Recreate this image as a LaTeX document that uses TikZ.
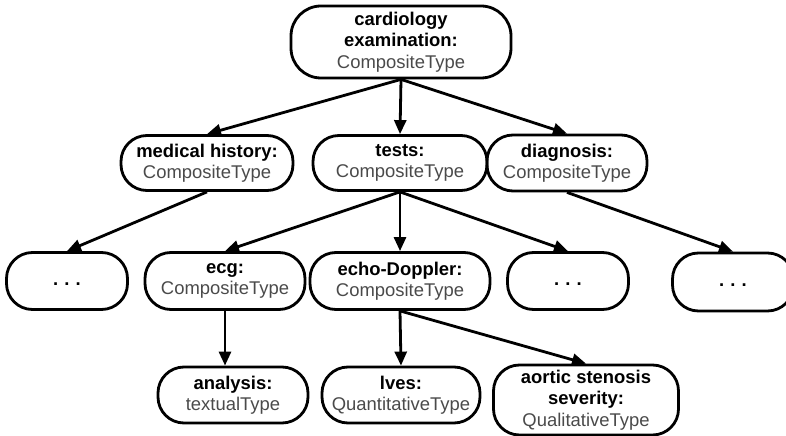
\documentclass[tikz,border=0pt]{standalone}
\usepackage{fontspec}
\setmainfont{Liberation Sans}
\usetikzlibrary{arrows.meta}
\definecolor{typegray}{HTML}{4A4A4A}
\newcommand{\nm}[1]{\textbf{#1}}
\newcommand{\ty}[1]{\textcolor{typegray}{#1}}
\newcommand{\moredots}{\strut\textbf{.\,\,.\,\,.}}
\begin{document}
\begin{tikzpicture}[x=1bp,y=-1bp,
  box/.style={draw=black, line width=2.8bp, rounded corners=26bp,
    align=center, inner sep=0pt, font=\fontsize{18.5}{21.5}\selectfont},
  link/.style={line width=2.8bp, -{Triangle[length=14bp,width=12bp]}}]
\useasboundingbox (0,0) rectangle (786,436);

% top level
\node[box, minimum width=220bp, minimum height=72bp, rounded corners=30bp] (root) at (401,42)
  {\nm{cardiology}\\\nm{examination:}\\\ty{CompositeType}};

% second level
\node[box, minimum width=172bp, minimum height=55bp] (mh) at (207,163)
  {\nm{medical history:}\\\ty{CompositeType}};
\node[box, minimum width=174bp, minimum height=55bp] (tests) at (400,163)
  {\nm{tests:}\\\ty{CompositeType}};
\node[box, minimum width=160bp, minimum height=56bp] (diag) at (567,163)
  {\nm{diagnosis:}\\\ty{CompositeType}};

% third level
\node[box, minimum width=121bp, minimum height=57bp] (d1) at (67,281) {\moredots};
\node[box, minimum width=160bp, minimum height=57bp] (ecg) at (225,281)
  {\nm{ecg:}\\\ty{CompositeType}};
\node[box, minimum width=180bp, minimum height=57bp] (echo) at (400,281)
  {\nm{echo-Doppler:}\\\ty{CompositeType}};
\node[box, minimum width=121bp, minimum height=57bp] (d2) at (568,281) {\moredots};
\node[box, minimum width=121bp, minimum height=58bp] (d3) at (733,282) {\moredots};

% fourth level
\node[box, minimum width=150bp, minimum height=56bp] (ana) at (233,395)
  {\nm{analysis:}\\\ty{textualType}};
\node[box, minimum width=158bp, minimum height=56bp] (lves) at (401,395)
  {\nm{lves:}\\\ty{QuantitativeType}};
\node[box, minimum width=185bp, minimum height=70bp] (aort) at (586,400)
  {\nm{aortic stenosis}\\\nm{severity:}\\\ty{QualitativeType}};

% connectors
\draw[link] (root.south) -- (mh.north);
\draw[link] (root.south) -- (tests.north);
\draw[link] (root.south) -- (diag.north);
\draw[link] (mh.south) -- (d1.north);
\draw[link] (tests.south) -- (ecg.north);
\draw[link] (tests.south) -- (echo.north);
\draw[link] (tests.south) -- (d2.north);
\draw[link] (diag.south) -- (d3.north);
\draw[link] (ecg.south) -- (ecg.south |- ana.north);
\draw[link] (echo.south) -- (lves.north);
\draw[link] (echo.south) -- (aort.north);
\end{tikzpicture}
\end{document}
